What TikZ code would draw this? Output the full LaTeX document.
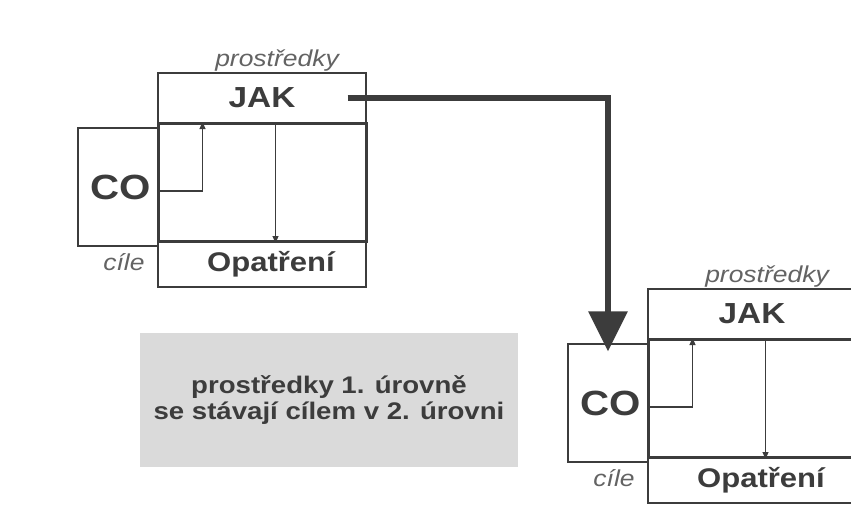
\documentclass[tikz,border=0pt]{standalone}
\usepackage{fontspec}
\setmainfont{Liberation Sans}[FakeStretch=1.15]
\usetikzlibrary{arrows.meta}
\definecolor{ink}{HTML}{3C3C3C}
\definecolor{panel}{HTML}{DADADA}
\tikzset{
  thinbox/.style={draw=ink, line width=1.1pt, minimum width=208pt, inner sep=0pt},
  mainbox/.style={draw=ink, line width=3pt, minimum width=208pt, minimum height=118pt, inner sep=0pt},
  cobox/.style={draw=ink, line width=1.1pt, minimum width=80pt, minimum height=118pt, inner sep=0pt},
  bigtxt/.style={text=ink, font=\fontsize{29}{30}\selectfont\bfseries},
  cotxt/.style={text=ink, font=\fontsize{35}{36}\selectfont\bfseries},
  optxt/.style={text=ink, font=\fontsize{27}{28}\selectfont\bfseries},
  itxt/.style={text=ink!80, font=\fontsize{23}{24}\selectfont\itshape, inner sep=0pt},
  smallarr/.style={draw=ink, line width=1.1pt, -{Triangle[length=7pt, width=6pt]}},
  bigarr/.style={draw=ink, line width=6pt, -{Triangle[length=40pt, width=38pt]}},
  panelbox/.style={fill=panel, draw=none, minimum width=378pt, minimum height=134pt},
  paneltxt/.style={text=ink, font=\fontsize{24}{26}\selectfont\bfseries, align=center}
}
\begin{document}
\begin{tikzpicture}[x=1pt, y=-1pt]
\clip (0,0) rectangle (851,515);
\fill[white] (0,0) rectangle (851,515);
\foreach \i/\dx/\dy in {1/0/0, 2/490/216}{
  \begin{scope}[shift={(\dx,\dy)}]
    \node[thinbox, minimum height=50pt] (jak\i) at (262,98) {};
    \node[bigtxt] at (jak\i.center) {JAK};
    \node[thinbox, minimum height=45pt] (op\i) at (262,264.5) {};
    \node[optxt] at ([xshift=9pt]op\i.center) {Opatření};
    \node[cobox] (co\i) at (118,187) {};
    \node[cotxt] at ([xshift=3pt]co\i.center) {CO};
    \node[mainbox] (main\i) at (262,182.5) {};
    \node[itxt, anchor=base] (pr\i) at (277,66) {prostředky};
    \node[itxt, anchor=base] (ci\i) at (124,270) {cíle};
    \draw[smallarr] ([yshift=-4pt]co\i.east) -| ([xshift=46pt]main\i.north west);
    \draw[smallarr] ([xshift=119pt]main\i.north west) -- ([xshift=119pt]main\i.south west);
  \end{scope}
}
\draw[bigarr] ([xshift=-19pt]jak1.east) -| ([yshift=-8pt]co2.north);
\node[panelbox] (panel) at (329,400) {};
\node[paneltxt] at (panel.center) {prostředky 1. úrovně\\se stávají cílem v 2. úrovni};
\end{tikzpicture}
\end{document}
